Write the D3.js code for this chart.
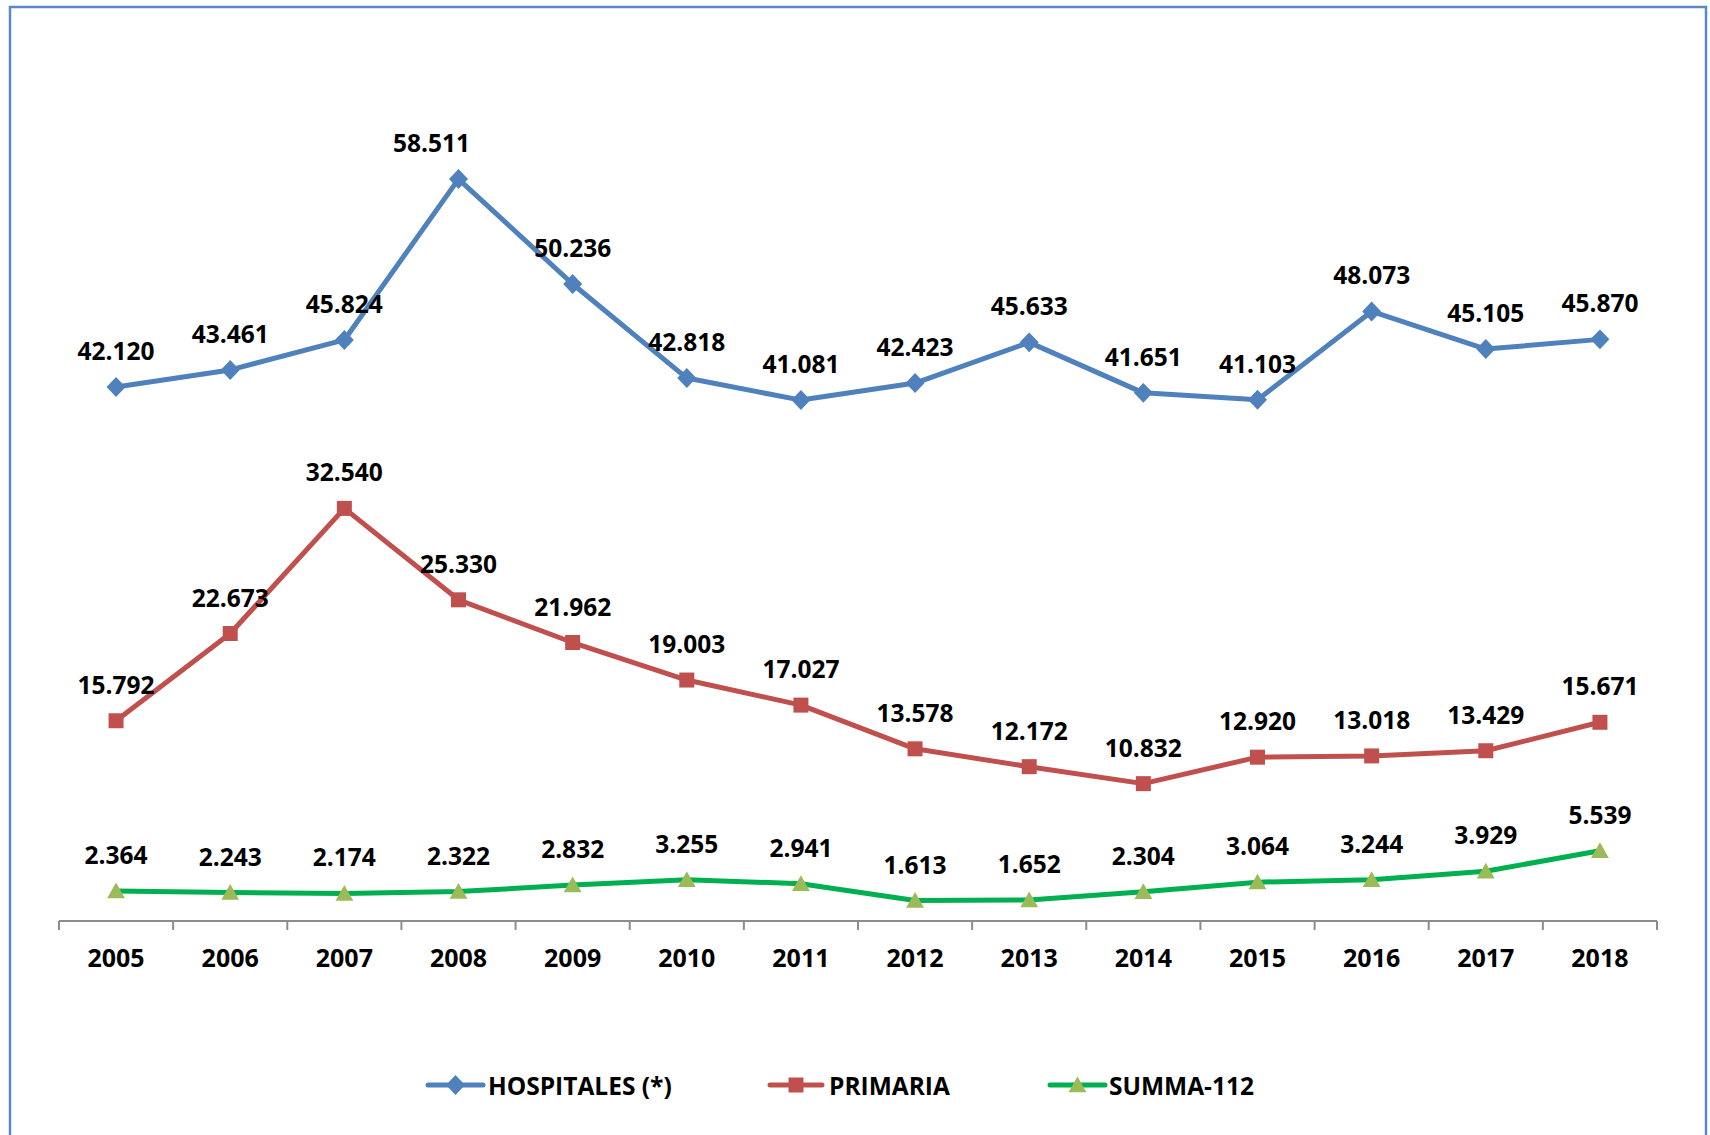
<!DOCTYPE html>
<html>
<head>
<meta charset="utf-8">
<script src="https://cdn.jsdelivr.net/npm/d3@7/dist/d3.min.js"></script>
<style>
  html, body { margin: 0; padding: 0; background: #ffffff; }
  svg { display: block; }
  text { font-family: "Open Sans", "Liberation Sans", sans-serif; font-weight: 700; fill: #000; }
</style>
</head>
<body>
<svg id="chart" width="1710" height="1135"></svg>
<script>
// Years on the category axis
const years = ["2005", "2006", "2007", "2008", "2009", "2010", "2011", "2012", "2013", "2014", "2015", "2016", "2017", "2018"];

// Series values (thousands)
const hospitales = [42.120, 43.461, 45.824, 58.511, 50.236, 42.818, 41.081, 42.423, 45.633, 41.651, 41.103, 48.073, 45.105, 45.870];
const primaria   = [15.792, 22.673, 32.540, 25.330, 21.962, 19.003, 17.027, 13.578, 12.172, 10.832, 12.920, 13.018, 13.429, 15.671];
const summa112   = [2.364, 2.243, 2.174, 2.322, 2.832, 3.255, 2.941, 1.613, 1.652, 2.304, 3.064, 3.244, 3.929, 5.539];

const seriesNames = ["HOSPITALES (*)", "PRIMARIA", "SUMMA-112"];

const svg = d3.select("#chart");

// Outer chart frame
svg.append("rect")
  .attr("x", 10).attr("y", 7)
  .attr("width", 1696).attr("height", 1150)
  .attr("fill", "none")
  .attr("stroke", "#5B89C8")
  .attr("stroke-width", 2.5);

const x = d3.scaleBand().domain(years).range([59, 1657]);
const y = d3.scaleLinear().domain([0, 70]).range([921, 33.4]);
const cx = d => x(d) + x.bandwidth() / 2;

// Category axis with ticks between categories
const axisG = svg.append("g").attr("transform", "translate(0,921)");
axisG.append("line")
  .attr("x1", 59).attr("x2", 1657).attr("y1", 0).attr("y2", 0)
  .attr("stroke", "#8C8C8C").attr("stroke-width", 2);
axisG.selectAll("line.tick")
  .data(d3.range(years.length + 1))
  .join("line")
  .attr("class", "tick")
  .attr("x1", i => 59 + i * x.step()).attr("x2", i => 59 + i * x.step())
  .attr("y1", 0).attr("y2", 9)
  .attr("stroke", "#8C8C8C").attr("stroke-width", 2);
axisG.selectAll("text.year")
  .data(years)
  .join("text")
  .attr("class", "year")
  .attr("x", d => cx(d))
  .attr("y", 46)
  .attr("text-anchor", "middle")
  .style("font-size", "25px")
  .text(d => d);

const series = [
  { name: seriesNames[0], values: hospitales, color: "#4F81BD", markerFill: "#4F81BD", marker: "diamond" },
  { name: seriesNames[1], values: primaria,   color: "#C0504D", markerFill: "#C0504D", marker: "square" },
  { name: seriesNames[2], values: summa112,   color: "#00B050", markerFill: "#9BBB59", marker: "triangle" }
];

function markerPath(type, s) {
  if (type === "diamond") return `M0,${-s * 1.05} L${s},0 L0,${s * 1.05} L${-s},0 Z`;
  if (type === "square") return `M${-s},${-s} H${s} V${s} H${-s} Z`;
  return `M0,${-s * 1.0} L${s * 1.05},${s * 0.85} L${-s * 1.05},${s * 0.85} Z`;
}
const markerSize = { diamond: 9.5, square: 7.5, triangle: 8.5 };

const line = d3.line()
  .x((d, i) => cx(years[i]))
  .y(d => y(d));

// Label nudges where a data label was moved aside
const labelNudge = { "0-2008": -27 };

series.forEach((s, si) => {
  const g = svg.append("g");
  g.append("path")
    .datum(s.values)
    .attr("d", line)
    .attr("fill", "none")
    .attr("stroke", s.color)
    .attr("stroke-width", 5)
    .attr("stroke-linejoin", "round");

  g.selectAll("path.marker")
    .data(s.values)
    .join("path")
    .attr("class", "marker")
    .attr("transform", (d, i) => `translate(${cx(years[i])},${y(d)})`)
    .attr("d", markerPath(s.marker, markerSize[s.marker]))
    .attr("fill", s.markerFill);

  g.selectAll("text.label")
    .data(s.values)
    .join("text")
    .attr("class", "label")
    .attr("x", (d, i) => cx(years[i]) + (labelNudge[si + "-" + years[i]] || 0))
    .attr("y", d => y(d) - 27)
    .attr("text-anchor", "middle")
    .style("font-size", "24.5px")
    .text(d => d3.format(".3f")(d));
});

// Legend
const legendItems = [
  { x0: 428, x1: 483, tx: 488 },
  { x0: 770, x1: 822, tx: 829 },
  { x0: 1050, x1: 1105, tx: 1109 }
];
const legend = svg.append("g");
series.forEach((s, i) => {
  const it = legendItems[i];
  const ly = 1085;
  legend.append("line")
    .attr("x1", it.x0).attr("x2", it.x1).attr("y1", ly).attr("y2", ly)
    .attr("stroke", s.color).attr("stroke-width", 5).attr("stroke-linecap", "round");
  legend.append("path")
    .attr("transform", `translate(${(it.x0 + it.x1) / 2},${ly})`)
    .attr("d", markerPath(s.marker, markerSize[s.marker]))
    .attr("fill", s.markerFill);
  legend.append("text")
    .attr("x", it.tx).attr("y", ly + 10)
    .style("font-size", "24.5px")
    .text(s.name);
});
</script>
</body>
</html>
